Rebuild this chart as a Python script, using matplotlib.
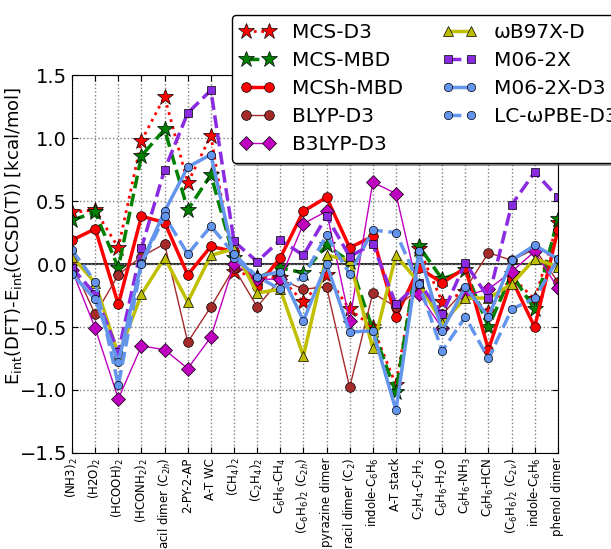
import numpy as np
import matplotlib
matplotlib.use("Agg")
import matplotlib.pyplot as plt

systems = [r"(NH3)$_2$", r"(H2O)$_2$", r"(HCOOH)$_2$", r"(HCONH$_2$)$_2$",
           r"uracil dimer (C$_{2h}$)", "2-PY-2-AP", "A-T WC", r"(CH$_4$)$_2$",
           r"(C$_2$H$_4$)$_2$", r"C$_6$H$_6$-CH$_4$", r"(C$_6$H$_6$)$_2$ (C$_{2h}$)",
           "pyrazine dimer", r"uracil dimer (C$_2$)", r"indole-C$_6$H$_6$", "A-T stack",
           r"C$_2$H$_4$-C$_2$H$_2$", r"C$_6$H$_6$-H$_2$O", r"C$_6$H$_6$-NH$_3$",
           r"C$_6$H$_6$-HCN", r"(C$_6$H$_6$)$_2$ (C$_{2v}$)", r"indole-C$_6$H$_6$",
           "phenol dimer"]

mcs_d3 = [0.41, 0.43, 0.13, 0.98, 1.33, 0.645, 1.02, -0.06, -0.10, -0.11, -0.30,
          -0.09, -0.36, -0.50, -0.96, 0.12, -0.30, -0.22, -0.38, -0.10, -0.28, 0.33]
mcs_mbd = [0.35, 0.41, -0.03, 0.86, 1.07, 0.43, 0.71, 0.05, -0.11, -0.03, -0.07,
           0.15, 0.02, -0.52, -1.02, 0.14, -0.12, -0.05, -0.50, -0.08, -0.36, 0.36]
mcsh_mbd = [0.19, 0.28, -0.32, 0.38, 0.33, -0.085, 0.14, 0.10, -0.18, 0.05, 0.42,
            0.53, 0.13, 0.22, -0.42, -0.03, -0.15, -0.03, -0.68, -0.12, -0.50, 0.27]
blyp_d3 = [0.0, -0.40, -0.085, 0.06, 0.16, -0.62, -0.34, -0.03, -0.34, -0.12, -0.20,
           -0.18, -0.98, -0.23, -0.34, -0.20, -0.40, -0.20, 0.09, 0.03, 0.12, -0.14]
b3lyp_d3 = [-0.05, -0.51, -1.07, -0.65, -0.68, -0.83, -0.58, 0.0, -0.12, -0.12, 0.32,
            0.42, -0.45, 0.65, 0.56, -0.24, -0.51, -0.25, -0.20, -0.06, 0.10, -0.19]
wb97xd = [0.06, -0.15, -0.72, -0.24, 0.05, -0.30, 0.07, 0.12, -0.23, -0.20, -0.73,
          0.07, 0.03, -0.67, 0.07, -0.15, -0.47, -0.27, -0.27, -0.16, 0.04, -0.02]
m062x = [-0.03, -0.24, -0.70, 0.13, 0.75, 1.20, 1.38, 0.18, 0.02, 0.19, 0.07,
         0.38, 0.06, 0.16, -0.32, -0.15, -0.40, 0.01, -0.27, 0.47, 0.73, 0.53]
m062x_d3 = [-0.08, -0.28, -0.78, 0.01, 0.42, 0.77, 0.87, 0.05, -0.10, -0.06, -0.45,
            0.0, -0.54, -0.53, -1.16, 0.10, -0.53, -0.18, -0.42, 0.03, 0.15, 0.04]
lcwpbe_d3 = [0.11, -0.14, -0.96, 0.0, 0.38, 0.08, 0.30, 0.08, -0.10, -0.20, -0.10,
             0.23, -0.08, 0.27, 0.25, -0.16, -0.69, -0.42, -0.75, -0.36, -0.27, 0.04]

x = np.arange(len(systems))

fig = plt.figure(figsize=(6.11, 5.49), dpi=100)
ax = fig.add_axes([0.118, 0.175, 0.795, 0.688])

ax.axhline(0, color="#303030", linewidth=1.5, zorder=1)

ax.plot(x, mcs_d3, color="red", linestyle=":", linewidth=2, marker="*",
        markersize=12, markeredgecolor="black", markeredgewidth=0.5, label="MCS-D3")
ax.plot(x, mcs_mbd, color="green", linestyle="--", linewidth=2.5, marker="*",
        markersize=12, markeredgecolor="black", markeredgewidth=0.5, label="MCS-MBD")
ax.plot(x, mcsh_mbd, color="red", linestyle="-", linewidth=2.5, marker="o",
        markersize=7, markeredgecolor="black", markeredgewidth=0.5, label="MCSh-MBD")
ax.plot(x, blyp_d3, color="brown", linestyle="-", linewidth=1, marker="o",
        markersize=7, markeredgecolor="black", markeredgewidth=0.5, label="BLYP-D3")
ax.plot(x, b3lyp_d3, color="m", linestyle="-", linewidth=1, marker="D",
        markersize=7, markeredgecolor="black", markeredgewidth=0.5, label="B3LYP-D3")
ax.plot(x, wb97xd, color="y", linestyle="-", linewidth=2.5, marker="^",
        markersize=7, markeredgecolor="black", markeredgewidth=0.5, label="ωB97X-D")
ax.plot(x, m062x, color="blueviolet", linestyle="--", linewidth=2.5, marker="s",
        markersize=6, markeredgecolor="black", markeredgewidth=0.5, label="M06-2X")
ax.plot(x, m062x_d3, color="cornflowerblue", linestyle="-", linewidth=2.5, marker="o",
        markersize=6, markeredgecolor="black", markeredgewidth=0.5, label="M06-2X-D3")
ax.plot(x, lcwpbe_d3, color="cornflowerblue", linestyle="--", linewidth=2.5, marker="o",
        markersize=6, markeredgecolor="black", markeredgewidth=0.5, label="LC-ωPBE-D3")

ax.set_xlim(0, len(systems) - 1)
ax.set_ylim(-1.5, 1.5)
ax.set_yticks([-1.5, -1.0, -0.5, 0.0, 0.5, 1.0, 1.5])
ax.set_xticks(x)
ax.set_xticklabels(systems, rotation=90, fontsize=8.5)
ax.tick_params(axis="y", labelsize=14)
ax.tick_params(direction="in", top=True, right=True, length=4)
ax.grid(True, linestyle=":", color="gray", linewidth=1)
ax.set_ylabel(r"E$_{\rm int}$(DFT)-E$_{\rm int}$(CCSD(T)) [kcal/mol]", fontsize=13)
ax.yaxis.set_label_coords(-0.1, 0.575)

ax.legend(ncol=2, loc="upper left", bbox_to_anchor=(0.329, 1.159), fontsize=14.5,
          numpoints=2, shadow=True, fancybox=True, framealpha=1,
          edgecolor="black", handlelength=1.75, handletextpad=0.85,
          columnspacing=1.9, borderaxespad=0, borderpad=0.4, labelspacing=0.45)

fig.savefig("out.png", dpi=100)
